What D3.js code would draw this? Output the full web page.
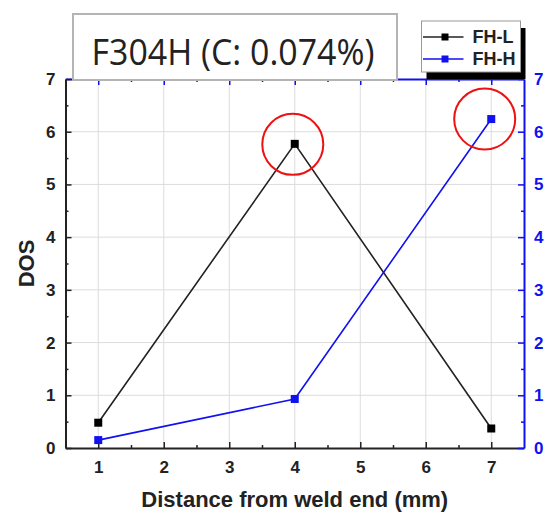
<!DOCTYPE html>
<html lang="en">
<head>
<meta charset="utf-8">
<title>F304H DOS</title>
<script src="https://d3js.org/d3.v7.min.js"></script>
<style>
  body { margin: 0; background: #fff; }
</style>
</head>
<body>
<div id="chart"></div>
<script>
// values
var distance = [1, 4, 7];
var fhL = [0.48, 5.77, 0.37];
var fhH = [0.15, 0.93, 6.24];
var xTicks = [1, 2, 3, 4, 5, 6, 7];
var yTicks = [0, 1, 2, 3, 4, 5, 6, 7];
// red circles drawn round the peaks (data coordinates)
var highlights = [{x: 3.97, y: 5.76}, {x: 6.9, y: 6.24}];

var width = 549, height = 513;
var margin = {top: 79, right: 25, bottom: 65, left: 65.5};
var blue = "#1010f0";

var svg = d3.select("#chart").append("svg")
    .attr("width", width)
    .attr("height", height);

var x = d3.scaleLinear().domain([0.5, 7.5]).range([margin.left, width - margin.right]);
var y = d3.scaleLinear().domain([0, 7]).range([height - margin.bottom, margin.top]);

// grid
svg.append("g").selectAll("line").data(xTicks).enter().append("line")
    .attr("x1", d => x(d)).attr("x2", d => x(d))
    .attr("y1", y(0)).attr("y2", y(7))
    .attr("stroke", "#dcdcdc").attr("stroke-width", 1);
svg.append("g").selectAll("line").data(yTicks.slice(1, -1)).enter().append("line")
    .attr("x1", x(0.5)).attr("x2", x(7.5))
    .attr("y1", d => y(d)).attr("y2", d => y(d))
    .attr("stroke", "#dcdcdc").attr("stroke-width", 1);

var xMinor = d3.range(1.5, 7.5, 1);
var yMinor = d3.range(0.5, 7, 1);

function styleAxis(g, color) {
  g.select(".domain").attr("stroke", color).attr("stroke-width", 2);
  g.selectAll(".tick line").attr("stroke", color).attr("stroke-width", 1.5);
  g.selectAll(".tick text").attr("fill", color)
    .attr("font-family", "Liberation Sans, Arial, sans-serif")
    .attr("font-weight", "bold").attr("font-size", 17);
}

// bottom axis (black)
var gx = svg.append("g").attr("transform", "translate(0," + y(0) + ")")
    .call(d3.axisBottom(x).tickValues(xTicks).tickSize(-6).tickPadding(13).tickFormat(d3.format("d")).tickSizeOuter(0));
styleAxis(gx, "#222");
svg.append("g").attr("transform", "translate(0," + y(0) + ")")
    .call(d3.axisBottom(x).tickValues(xMinor).tickSize(-3).tickFormat("").tickSizeOuter(0))
    .call(g => { g.select(".domain").remove(); g.selectAll("line").attr("stroke", "#222").attr("stroke-width", 1.5); });

// top axis (blue)
var gt = svg.append("g").attr("transform", "translate(0," + y(7) + ")")
    .call(d3.axisTop(x).tickValues(xTicks).tickSize(-6).tickFormat("").tickSizeOuter(0));
styleAxis(gt, blue);
svg.append("g").attr("transform", "translate(0," + y(7) + ")")
    .call(d3.axisTop(x).tickValues(xMinor).tickSize(-3).tickFormat("").tickSizeOuter(0))
    .call(g => { g.select(".domain").remove(); g.selectAll("line").attr("stroke", blue).attr("stroke-width", 1.5); });

// left axis (black)
var gy = svg.append("g").attr("transform", "translate(" + x(0.5) + ",0)")
    .call(d3.axisLeft(y).tickValues(yTicks).tickSize(-6).tickPadding(10).tickFormat(d3.format("d")).tickSizeOuter(0));
styleAxis(gy, "#222");
svg.append("g").attr("transform", "translate(" + x(0.5) + ",0)")
    .call(d3.axisLeft(y).tickValues(yMinor).tickSize(-3).tickFormat("").tickSizeOuter(0))
    .call(g => { g.select(".domain").remove(); g.selectAll("line").attr("stroke", "#222").attr("stroke-width", 1.5); });

// right axis (blue)
var gr = svg.append("g").attr("transform", "translate(" + x(7.5) + ",0)")
    .call(d3.axisRight(y).tickValues(yTicks).tickSize(-6).tickPadding(10).tickFormat(d3.format("d")).tickSizeOuter(0));
styleAxis(gr, blue);
svg.append("g").attr("transform", "translate(" + x(7.5) + ",0)")
    .call(d3.axisRight(y).tickValues(yMinor).tickSize(-3).tickFormat("").tickSizeOuter(0))
    .call(g => { g.select(".domain").remove(); g.selectAll("line").attr("stroke", blue).attr("stroke-width", 1.5); });

// axis titles
svg.append("text")
    .attr("x", (x(0.5) + x(7.5)) / 2).attr("y", 507)
    .attr("text-anchor", "middle")
    .attr("font-family", "Liberation Sans, Arial, sans-serif")
    .attr("font-weight", "bold").attr("font-size", 22)
    .attr("fill", "#222")
    .text("Distance from weld end (mm)");
svg.append("text")
    .attr("transform", "translate(34," + (y(0) + y(7)) / 2 + ") rotate(-90)")
    .attr("text-anchor", "middle")
    .attr("font-family", "Liberation Sans, Arial, sans-serif")
    .attr("font-weight", "bold").attr("font-size", 22)
    .attr("fill", "#222")
    .text("DOS");

// series
var series = [
  {name: "FH-L", values: fhL, color: "#222", mark: "#000"},
  {name: "FH-H", values: fhH, color: blue, mark: blue}
];
var line = d3.line().x((d, i) => x(distance[i])).y(d => y(d));

series.forEach(function(s) {
  svg.append("path").datum(s.values)
      .attr("d", line)
      .attr("fill", "none")
      .attr("stroke", s.color)
      .attr("stroke-width", 1.6);
  svg.append("g").selectAll("rect").data(s.values).enter().append("rect")
      .attr("x", (d, i) => x(distance[i]) - 4)
      .attr("y", d => y(d) - 4)
      .attr("width", 8).attr("height", 8)
      .attr("fill", s.mark);
});

// highlight circles
svg.append("g").selectAll("circle").data(highlights).enter().append("circle")
    .attr("cx", d => x(d.x)).attr("cy", d => y(d.y))
    .attr("r", 30.5)
    .attr("fill", "none")
    .attr("stroke", "#ee1111")
    .attr("stroke-width", 2);

// title box
svg.append("rect")
    .attr("x", 73).attr("y", 14)
    .attr("width", 324).attr("height", 66)
    .attr("fill", "#fff")
    .attr("stroke", "#b4b4b4").attr("stroke-width", 2);
svg.append("text")
    .attr("x", 233).attr("y", 65)
    .attr("text-anchor", "middle")
    .attr("font-family", "Open Sans, sans-serif")
    .attr("font-size", 37)
    .attr("textLength", 283)
    .attr("lengthAdjust", "spacingAndGlyphs")
    .attr("fill", "#222")
    .text("F304H (C: 0.074%)");

// legend
var lg = svg.append("g").attr("transform", "translate(421.5,21)");
lg.append("rect").attr("x", 5).attr("y", 7).attr("width", 99).attr("height", 51).attr("fill", "#000");
lg.append("rect").attr("x", 0).attr("y", 0).attr("width", 99).attr("height", 51)
    .attr("fill", "#fff").attr("stroke", "#999").attr("stroke-width", 1);
series.forEach(function(s, i) {
  var yy = 16 + i * 22;
  lg.append("line").attr("x1", 1.5).attr("x2", 42).attr("y1", yy).attr("y2", yy)
      .attr("stroke", s.color).attr("stroke-width", 1.6);
  lg.append("rect").attr("x", 20).attr("y", yy - 3.5).attr("width", 7).attr("height", 7)
      .attr("fill", s.mark);
  lg.append("text").attr("x", 51).attr("y", yy + 6)
      .attr("font-family", "Liberation Sans, Arial, sans-serif")
      .attr("font-weight", "bold").attr("font-size", 18)
      .attr("fill", "#222")
      .text(s.name);
});
</script>
</body>
</html>
